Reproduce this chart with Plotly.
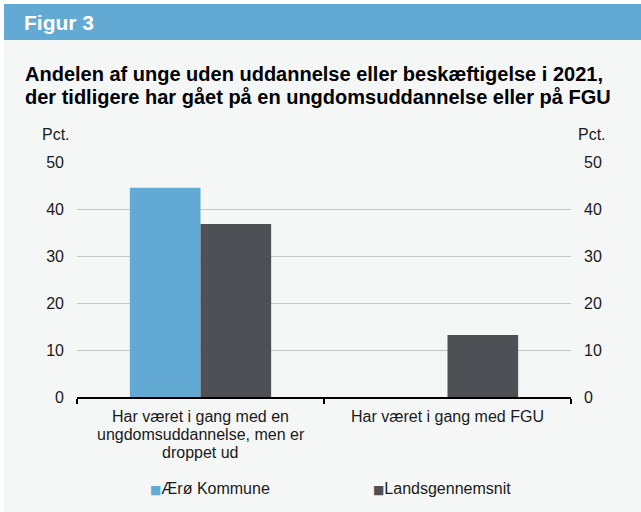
import plotly.graph_objects as go

# Data
categories = [
    "Har været i gang med en<br>ungdomsuddannelse, men er<br>droppet ud",
    "Har været i gang med FGU",
]
series_names = ["Ærø Kommune", "Landsgennemsnit"]
aeroe_values = [44.5, None]
national_values = [36.8, 13.2]
y_ticks = [0, 10, 20, 30, 40, 50]

colors = ["#62a9d4", "#4f5055"]
FONT = "Liberation Sans, Arial, sans-serif"
TEXT = "#1a1a1a"

W, H = 641, 512
ML, MR, MT, MB = 77, 70, 162, 115
PW, PH = W - ML - MR, H - MT - MB


def px_x(x):
    return (x - ML) / PW


def px_y(y):
    return (H - MB - y) / PH


fig = go.Figure()
for name, vals, col in zip(series_names, [aeroe_values, national_values], colors):
    fig.add_trace(go.Bar(x=categories, y=vals, name=name, marker_color=col,
                         marker_line_width=0, showlegend=False))

# Empty trace on the right-hand axis so that its ticks are drawn
fig.add_trace(go.Scatter(x=categories, y=[None, None], yaxis="y2",
                         showlegend=False, hoverinfo="skip"))

shapes = [
    # light panel
    dict(type="rect", xref="paper", yref="paper", layer="below",
         x0=px_x(4), x1=px_x(W + 2), y0=px_y(H + 2), y1=px_y(40),
         fillcolor="#f5f7f7", line_width=0),
    # header bar
    dict(type="rect", xref="paper", yref="paper", layer="below",
         x0=px_x(4), x1=px_x(W + 2), y0=px_y(40), y1=px_y(4),
         fillcolor="#62a9d4", line_width=0),
]

annotations = [
    dict(text="<b>Figur 3</b>", xref="paper", yref="paper", x=px_x(22), y=px_y(22.5),
         xanchor="left", yanchor="middle", showarrow=False,
         font=dict(family=FONT, size=21, color="white")),
]

title_lines = [
    "Andelen af unge uden uddannelse eller beskæftigelse i 2021,",
    "der tidligere har gået på en ungdomsuddannelse eller på FGU",
]
for i, line in enumerate(title_lines):
    annotations.append(dict(
        text=f"<b>{line}</b>", xref="paper", yref="paper",
        x=px_x(23), y=px_y(73.5 + 23 * i), xanchor="left", yanchor="middle",
        showarrow=False, font=dict(family=FONT, size=20, color="#000")))

for xpos, anchor in [(72, "right"), (576, "left")]:
    annotations.append(dict(
        text="Pct.", xref="paper", yref="paper", x=px_x(xpos), y=px_y(134.5),
        xanchor=anchor, yanchor="middle", showarrow=False,
        font=dict(family=FONT, size=16, color=TEXT)))

# Category labels, one line per annotation for tight line spacing
for cat in categories:
    for i, line in enumerate(cat.split("<br>")):
        annotations.append(dict(
            text=line, xref="x", yref="paper", x=cat, y=px_y(416 + 18.3 * i),
            xanchor="center", yanchor="middle", showarrow=False,
            font=dict(family=FONT, size=16, color=TEXT)))

# Legend entries: coloured square followed by the series name
legend_x = [148, 371]
for name, col, lx in zip(series_names, colors, legend_x):
    annotations.append(dict(
        text=(f'<span style="color:{col};font-family:DejaVu Sans;font-size:12px">■</span>'
              f'{name}'),
        xref="paper", yref="paper", x=px_x(lx), y=px_y(488),
        xanchor="left", yanchor="middle", showarrow=False,
        font=dict(family=FONT, size=16, color=TEXT)))

axis_font = dict(family=FONT, size=16, color=TEXT)

fig.update_layout(
    width=W, height=H,
    margin=dict(l=ML, r=MR, t=MT, b=MB),
    paper_bgcolor="white", plot_bgcolor="rgba(0,0,0,0)",
    barmode="group", bargap=0.428, bargroupgap=0,
    font=axis_font,
    shapes=shapes, annotations=annotations,
    xaxis=dict(type="category", showline=True, linecolor="#000", linewidth=2,
               ticks="outside", tickson="boundaries", ticklen=5, tickwidth=1.5,
               tickcolor="#000", showgrid=False, showticklabels=False),
    yaxis=dict(range=[0, 50], tickvals=y_ticks, showgrid=True,
               gridcolor="#c6c6c6", gridwidth=1.3, zeroline=False,
               showline=False, ticks="", tickfont=axis_font,
               ticklabelstandoff=12),
    yaxis2=dict(range=[0, 50], tickvals=y_ticks, overlaying="y", side="right",
                showgrid=False, zeroline=False, showline=False, ticks="",
                tickfont=axis_font, ticklabelstandoff=12),
    hovermode=False,
)

fig.write_html("out.html")
